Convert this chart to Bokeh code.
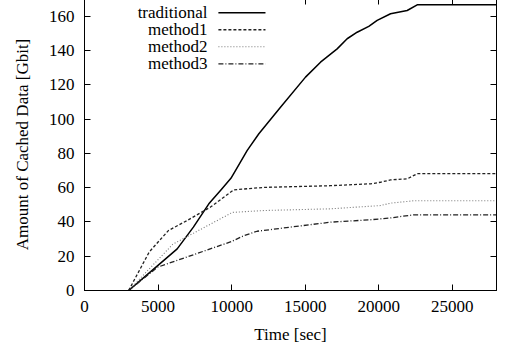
from bokeh.plotting import figure
from bokeh.models import (Range1d, LinearAxis, FixedTicker, Label, Arrow, BoxAnnotation)
from bokeh.embed import file_html
from bokeh.resources import INLINE

# ---- data ----
trad_x = [3000, 4500, 6300, 7400, 8450, 9300, 9950, 10260, 11060, 11850, 13320, 15020, 16040,
          17170, 17850, 18530, 19320, 19890, 20800, 21930, 22610, 28000]
trad_y = [0, 11, 24.3, 37, 50.6, 59, 65.5, 70, 81.8, 91.5, 107, 124.6, 133.3,
          141.1, 147, 150.8, 154.2, 157.7, 161.6, 163.5, 166.8, 166.8]

m1_x = [3000, 4400, 5700, 7000, 8560, 10150, 12190, 16720, 19440, 20120, 20800, 21930, 22610, 28000]
m1_y = [0, 22.5, 35, 41, 48.7, 58.8, 60.2, 61.2, 62.3, 63.2, 64.6, 65.2, 68.2, 68.2]

m2_x = [3000, 6000, 10050, 12190, 16720, 20120, 20800, 22380, 28000]
m2_y = [0, 27, 45.6, 46.7, 47.7, 49.6, 51, 52.4, 52.4]

m3_x = [3000, 4960, 9990, 10830, 11730, 14000, 16720, 19440, 20800, 22380, 28000]
m3_y = [0, 13.6, 28.6, 32, 34.6, 37, 39.9, 41.3, 42.4, 44.2, 44.2]

series_names = ["traditional", "method1", "method2", "method3"]

x_ticks = [0, 5000, 10000, 15000, 20000, 25000]
x_tick_labels = ["0", "5000", "10000", "15000", "20000", "25000"]
y_ticks = [0, 20, 40, 60, 80, 100, 120, 140, 160]
y_tick_labels = ["0", "20", "40", "60", "80", "100", "120", "140", "160"]

X_END = 28000
Y_END = 170.5

FONT = "Liberation Serif"
FS = "17px"

p = figure(frame_width=412, frame_height=292, output_backend="svg", toolbar_location=None,
           x_range=Range1d(0, X_END), y_range=Range1d(0, Y_END),
           min_border_left=84, min_border_top=0, min_border_right=4, min_border_bottom=0,
           x_axis_label="Time [sec]", y_axis_label="Amount of Cached Data [Gbit]")
p.margin = (-2, 0, 0, 0)
p.grid.visible = False
p.background_fill_color = "white"
p.border_fill_color = "white"
p.outline_line_color = "black"
p.outline_line_width = 1

for ax, ticks, labels in ((p.xaxis[0], x_ticks, x_tick_labels), (p.yaxis[0], y_ticks, y_tick_labels)):
    ax.ticker = FixedTicker(ticks=ticks)
    ax.major_label_overrides = {t: l for t, l in zip(ticks, labels)}
    ax.major_tick_in = 6
    ax.major_tick_out = 0
    ax.minor_tick_in = 0
    ax.minor_tick_out = 0
    ax.major_tick_line_color = "black"
    ax.axis_line_color = "black"
    ax.major_label_text_font = FONT
    ax.major_label_text_font_size = FS
    ax.major_label_text_color = "black"
    ax.axis_label_text_font = FONT
    ax.axis_label_text_font_size = FS
    ax.axis_label_text_font_style = "normal"
    ax.axis_label_text_color = "black"

p.xaxis[0].major_label_standoff = 10
p.xaxis[0].axis_label_standoff = 10
p.yaxis[0].major_label_standoff = 10
p.yaxis[0].axis_label_standoff = 14

# mirrored ticks (right and top), no labels
right = LinearAxis(ticker=FixedTicker(ticks=y_ticks), major_tick_in=6, major_tick_out=0,
                   minor_tick_in=0, minor_tick_out=0,
                   major_label_overrides={t: "" for t in y_ticks},
                   major_label_standoff=0, axis_line_color="black", major_tick_line_color="black")
p.add_layout(right, "right")
top = LinearAxis(ticker=FixedTicker(ticks=x_ticks), major_tick_in=6, major_tick_out=0,
                 minor_tick_in=0, minor_tick_out=0,
                 major_label_overrides={t: "" for t in x_ticks},
                 major_label_standoff=0, axis_line_color=None, major_tick_line_color="black")
p.add_layout(top, "above")

styles = [
    dict(line_color="black", line_width=1.5, line_dash="solid"),
    dict(line_color="#222222", line_width=1.3, line_dash="3 2"),
    dict(line_color="#777777", line_width=1.1, line_dash="1 2"),
    dict(line_color="#222222", line_width=1.3, line_dash="5 2 1 2"),
]
data = [(trad_x, trad_y), (m1_x, m1_y), (m2_x, m2_y), (m3_x, m3_y)]
for (xs, ys), st in zip(data, styles):
    p.line(xs, ys, **st)

# key (gnuplot style: label then sample), opaque background
KEY_TEXT_X = 8360
KEY_LINE_X0 = 9100
KEY_LINE_X1 = 12300
KEY_TOP = 162.2
KEY_STEP = 9.95
p.add_layout(BoxAnnotation(left=KEY_TEXT_X - 5200, right=KEY_LINE_X1 + 300,
                           bottom=KEY_TOP - 3.5 * KEY_STEP, top=Y_END,
                           fill_color="white", fill_alpha=1, line_color=None))
for i, (name, st) in enumerate(zip(series_names, styles)):
    yk = KEY_TOP - i * KEY_STEP
    p.add_layout(Label(x=KEY_TEXT_X, y=yk, text=name, text_align="right", text_baseline="middle",
                       text_font=FONT, text_font_size=FS, text_color="black"))
    p.add_layout(Arrow(start=None, end=None, x_start=KEY_LINE_X0, y_start=yk,
                       x_end=KEY_LINE_X1, y_end=yk, **st))

open("out.html", "w").write(file_html(p, INLINE))
